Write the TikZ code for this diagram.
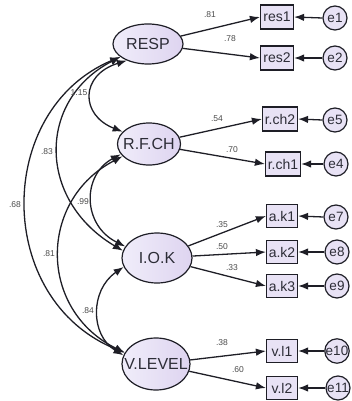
\documentclass[tikz,border=0pt]{standalone}
\usepackage{fontspec}
\setmainfont{Liberation Sans}
\usetikzlibrary{shapes.geometric,arrows.meta}
\definecolor{lavl}{RGB}{240,237,250}
\definecolor{lavd}{RGB}{222,212,240}
\definecolor{lav}{RGB}{232,226,245}
\definecolor{edgec}{RGB}{30,30,38}
\definecolor{lblc}{RGB}{75,75,75}
\definecolor{txtc}{RGB}{45,45,55}
\tikzset{
 latent/.style={ellipse, draw=edgec, line width=1.2pt, left color=lavl, right color=lavd, inner sep=0pt, font=\fontsize{16}{16}\selectfont, text=txtc},
 obs/.style={rectangle, draw=edgec, line width=1.2pt, fill=lav, inner sep=0pt, minimum width=33pt, minimum height=24pt, font=\fontsize{14}{14}\selectfont, text=txtc},
 err/.style={circle, draw=edgec, line width=1.2pt, fill=lav, inner sep=0pt, minimum size=24pt, font=\fontsize{13.5}{13.5}\selectfont, text=txtc},
 conn/.style={line width=1.3pt, draw=edgec, -{Latex[length=10pt,width=7.5pt]}},
 cov/.style={line width=1.3pt, draw=edgec, {Latex[length=10pt,width=7.5pt]}-{Latex[length=10pt,width=7.5pt]}},
 lab/.style={font=\fontsize{8.5}{8.5}\selectfont, text=lblc, inner sep=0pt},
}
\begin{document}
\begin{tikzpicture}[x=1pt,y=-1pt]
\useasboundingbox (0,0) rectangle (352,401);
% latent variables
\node[latent, minimum width=70pt, minimum height=40pt] (RESP) at (148,44) {RESP};
\node[latent, minimum width=63pt, minimum height=42pt] (RFCH) at (149,144) {\makebox[40pt]{R.F.CH}};
\node[latent, minimum width=70pt, minimum height=50pt] (IOK) at (157,258) {I.O.K};
\node[latent, minimum width=68pt, minimum height=52pt] (VLEV) at (156,364) {\makebox[40pt]{V.LEVEL}};
% observed
\node[obs] (res1) at (277,17) {res1};
\node[obs] (res2) at (277,58) {res2};
\node[obs, minimum width=35pt] (rch2) at (280,119) {r.ch2};
\node[obs, minimum width=35pt] (rch1) at (283,164) {r.ch1};
\node[obs, minimum width=31pt, minimum height=23pt] (ak1) at (282,216) {a.k1};
\node[obs, minimum width=31pt, minimum height=23pt] (ak2) at (282,252) {a.k2};
\node[obs, minimum width=31pt, minimum height=23pt] (ak3) at (282,286) {a.k3};
\node[obs, minimum width=31pt, minimum height=23pt] (vl1) at (282,351) {v.l1};
\node[obs, minimum width=31pt, minimum height=23pt] (vl2) at (282,388) {v.l2};
% errors
\node[err] (e1) at (335,18) {e1};
\node[err] (e2) at (335,58) {e2};
\node[err] (e5) at (335,120) {e5};
\node[err] (e4) at (336,164) {e4};
\node[err] (e7) at (336,217) {e7};
\node[err] (e8) at (337,252) {e8};
\node[err] (e9) at (337,286) {e9};
\node[err] (e10) at (337,351) {e10};
\node[err] (e11) at (338,388) {e11};
% loadings
\draw[conn] (RESP) -- (res1.west);
\draw[conn] (RESP) -- (res2.west);
\draw[conn] (RFCH) -- (rch2.west);
\draw[conn] (RFCH) -- (rch1.west);
\draw[conn] (IOK) -- (ak1.west);
\draw[conn] (IOK) -- (ak2.west);
\draw[conn] (IOK) -- (ak3.west);
\draw[conn] (VLEV) -- (vl1.west);
\draw[conn] (VLEV) -- (vl2.west);
% error arrows
\foreach \e/\b in {e1/res1,e2/res2,e5/rch2,e4/rch1,e7/ak1,e8/ak2,e9/ak3,e10/vl1,e11/vl2}
  \draw[conn] (\e.west) -- (\b.east);
% covariances
\draw[cov] (RESP.205) .. controls (-6,110) and (-6,300) .. (VLEV.160);
\draw[cov] (RESP.205) .. controls (37,100) and (37,200) .. (IOK.168);
\draw[cov] (RESP.218) .. controls (80,75) and (80,115) .. (RFCH.155);
\draw[cov] (RFCH.200) .. controls (82,175) and (82,225) .. (IOK.160);
\draw[cov] (RFCH.205) .. controls (38,200) and (38,310) .. (VLEV.160);
\draw[cov] (IOK.195) .. controls (90,290) and (90,335) .. (VLEV.165);
% labels
\node[lab] (l1) at (210,15) {.81};
\node[lab] (l2) at (230,39) {.78};
\node[lab] (l3) at (217,119) {.54};
\node[lab] (l4) at (232,150) {.70};
\node[lab] (l5) at (222,225) {.35};
\node[lab] (l6) at (222,247) {.50};
\node[lab] (l7) at (232,268) {.33};
\node[lab] (l8) at (222,343) {.38};
\node[lab] (l9) at (238,370) {.60};
\node[lab] (c1) at (79,93) {1.15};
\node[lab] (c2) at (47,152) {.83};
\node[lab] (c3) at (15,205) {.68};
\node[lab] (c4) at (83,202) {.99};
\node[lab] (c5) at (49,254) {.81};
\node[lab] (c6) at (88,311) {.84};
\end{tikzpicture}
\end{document}
